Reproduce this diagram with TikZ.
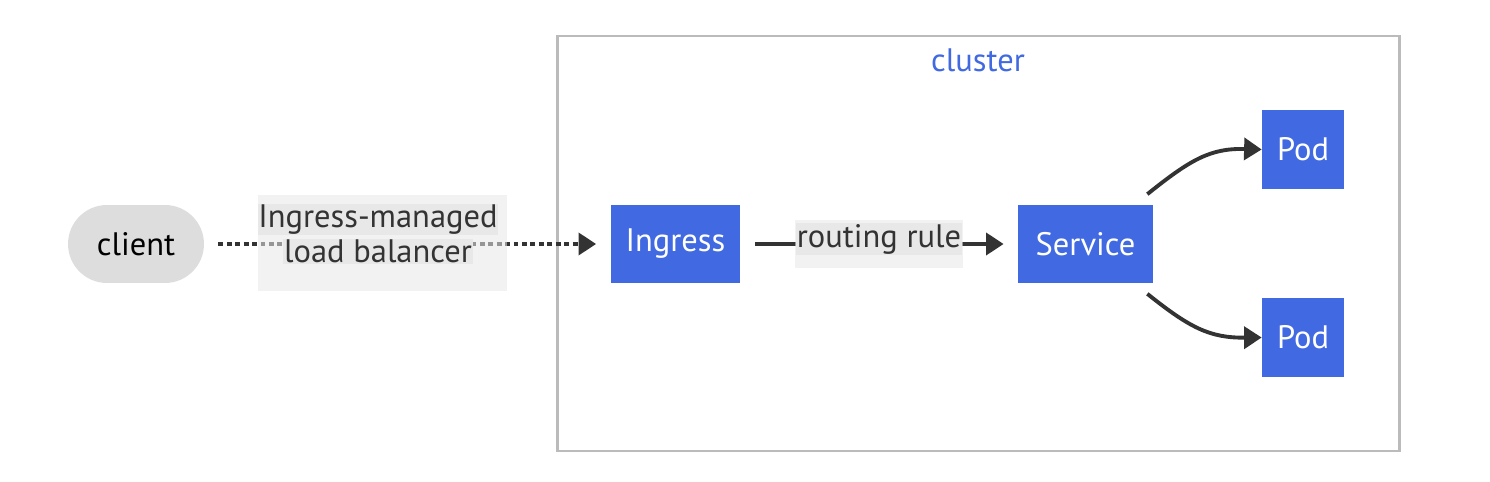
\documentclass[tikz,border=0pt]{standalone}
\usepackage{fontspec}
\setmainfont{PT Sans}
\usetikzlibrary{arrows.meta}
\definecolor{rblue}{HTML}{4169E1}
\definecolor{clientgray}{HTML}{DDDDDD}
\definecolor{edgegray}{HTML}{333333}
\definecolor{boxgray}{HTML}{BBBBBB}
\definecolor{lblouter}{HTML}{E8E8E8}
\definecolor{lblinner}{HTML}{E8E8E8}
\newcommand{\lbl}[1]{\colorbox{lblinner}{#1}}

\begin{document}
\begin{tikzpicture}[x=0.02cm,y=-0.02cm,
        font=\fontsize{18.5}{22}\selectfont,
        svc/.style={fill=rblue,text=white,minimum height=1.58cm,inner sep=0pt},
        edge/.style={draw=edgegray,line width=2.2pt,-{Triangle[length=10pt,width=12.5pt]}},
        lblbox/.style={fill=lblouter,fill opacity=0.55,inner sep=0pt},
        elabel/.style={text=edgegray,align=center,inner sep=0pt}]
        \useasboundingbox (0,0) rectangle (1490,482);
        \fboxsep=0.5pt
        % cluster box
        \draw[boxgray,line width=1.7pt] (557,36) rectangle (1399,451);
        \node[text=rblue] (cluster) at (978,60) {cluster};
        % nodes
        \node[fill=clientgray,rounded corners=0.78cm,minimum width=2.72cm,
            minimum height=1.56cm] (client) at (136,244) {client};
        \node[svc,minimum width=2.6cm] (ingress) at (675.5,244) {Ingress};
        \node[svc,minimum width=2.7cm] (service) at (1085.5,244) {Service};
        \node[svc,minimum width=1.64cm] (pod1) at (1303,149.5) {Pod};
        \node[svc,minimum width=1.64cm] (pod2) at (1303,337.5) {Pod};
        % connectors
        \draw[edge,dash pattern=on 2.8pt off 2pt,shorten <=8pt,shorten >=8pt]
            (client) -- (ingress);
        \node[lblbox,minimum width=4.98cm,minimum height=1.92cm] (lbbox) at (382.5,243) {};
        \node[elabel] (lb) at (378,234) {\lbl{Ingress-managed}\\[-2pt]\lbl{load balancer}};
        \draw[edge,shorten <=8pt,shorten >=8pt] (ingress) -- (service);
        \node[lblbox,minimum width=3.36cm,minimum height=0.96cm] (rrbox) at (879,244) {};
        \node[elabel] (rr) at (879,239) {\lbl{routing rule}};
        \draw[edge] (service.north east) ++(-6,-10) coordinate (s1)
            .. controls (1190,160) and (1210,148) .. (pod1.west);
        \draw[edge] (service.south east) ++(-6,10) coordinate (s2)
            .. controls (1190,328) and (1210,338) .. (pod2.west);
\end{tikzpicture}
\end{document}
